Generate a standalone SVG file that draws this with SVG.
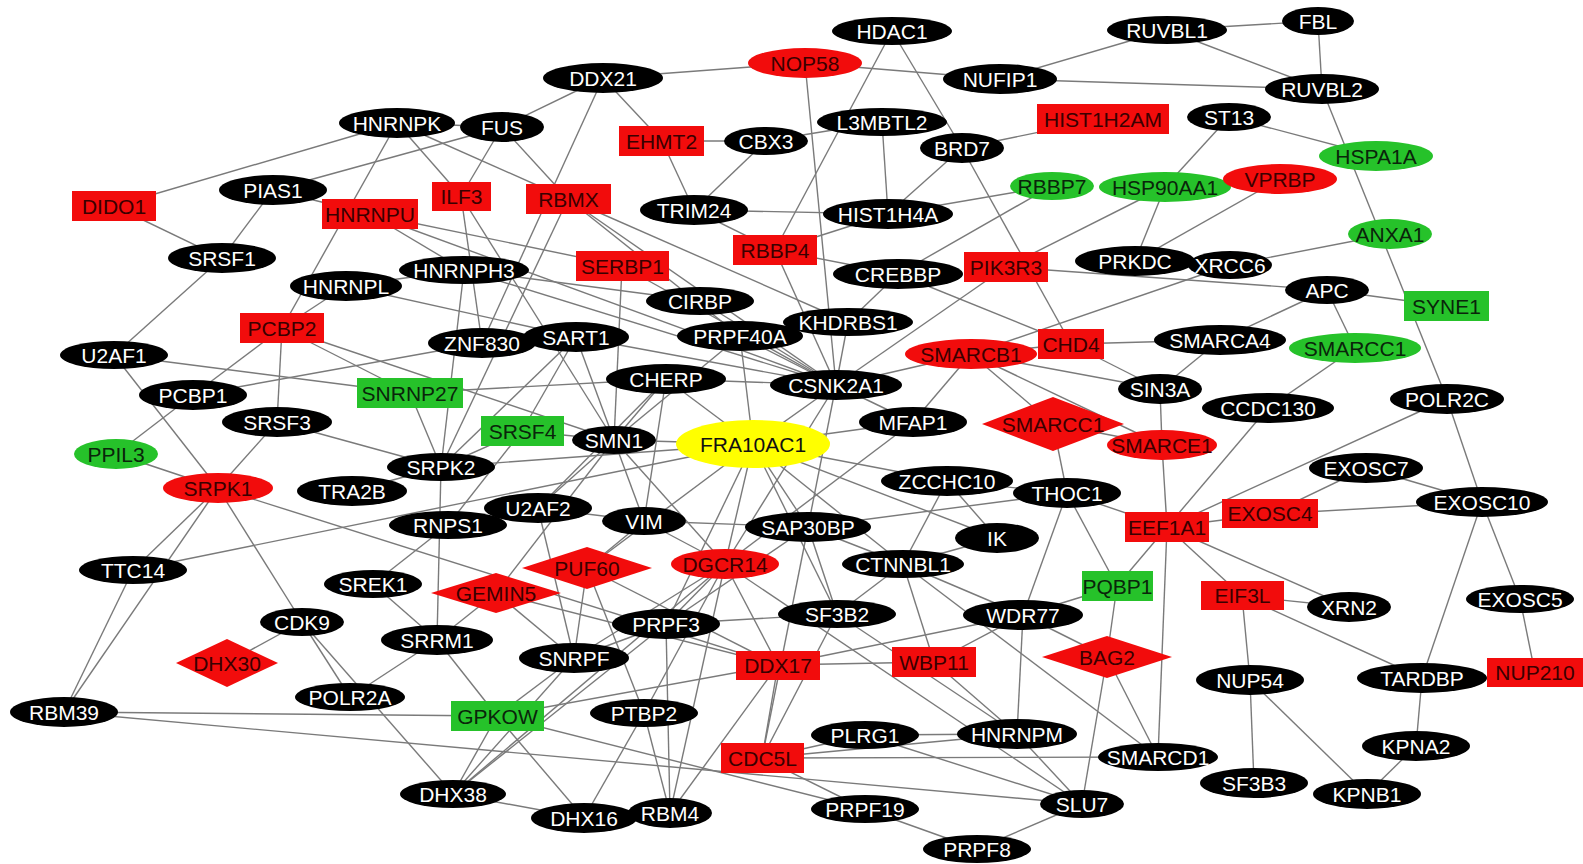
<svg xmlns="http://www.w3.org/2000/svg" width="1583" height="864" viewBox="0 0 1583 864">
<style>
.bg{fill:#fff}
#edges path{stroke:#7a7a7a;stroke-width:1.4;fill:none}
text{font-family:"Liberation Sans",Arial,sans-serif;font-size:21px;text-anchor:middle}
g.k ellipse{fill:#000}
g.k text{fill:#fff}
g.r ellipse,g.r rect,g.r polygon{fill:#f20c0c}
g.r text{fill:#3a0000}
g.g ellipse,g.g rect{fill:#26c22a}
g.g text{fill:#0a250a}
g.y ellipse{fill:#ffff00}
g.y text{fill:#111}
</style>
<rect class="bg" x="0" y="0" width="1583" height="864"/>
<g id="edges">
<path d="M603 78L805 63"/><path d="M603 78L502 127"/><path d="M603 78L662 141"/><path d="M603 78L482 343"/>
<path d="M805 63L1000 79"/><path d="M805 63L836 385"/><path d="M892 31L775 250"/><path d="M892 31L962 148"/>
<path d="M1000 79L1167 30"/><path d="M1000 79L1322 89"/><path d="M1167 30L1318 21"/><path d="M1167 30L1322 89"/>
<path d="M1318 21L1322 89"/><path d="M1322 89L1447 399"/><path d="M1229 117L1376 156"/><path d="M1229 117L1165 187"/>
<path d="M1165 187L1135 261"/><path d="M1165 187L1006 267"/><path d="M1280 179L1135 261"/><path d="M1135 261L1230 265"/>
<path d="M1230 265L1390 234"/><path d="M1230 265L971 354"/><path d="M1327 290L1006 267"/><path d="M1327 290L1446 306"/>
<path d="M1327 290L1220 340"/><path d="M1327 290L1355 348"/><path d="M1355 348L1268 408"/><path d="M1268 408L1167 527"/>
<path d="M1220 340L1160 389"/><path d="M1220 340L1071 344"/><path d="M882 122L766 141"/><path d="M882 122L888 214"/>
<path d="M962 148L888 214"/><path d="M962 148L1103 119"/><path d="M962 148L1071 344"/><path d="M888 214L1052 186"/>
<path d="M888 214L775 250"/><path d="M1052 186L898 274"/><path d="M694 210L888 214"/><path d="M694 210L775 250"/>
<path d="M775 250L836 385"/><path d="M775 250L898 274"/><path d="M662 141L766 141"/><path d="M662 141L694 210"/>
<path d="M766 141L694 210"/><path d="M898 274L1071 344"/><path d="M848 322L898 274"/><path d="M1006 267L836 385"/>
<path d="M1071 344L971 354"/><path d="M1071 344L1160 389"/><path d="M971 354L836 385"/><path d="M971 354L913 422"/>
<path d="M971 354L1053 424"/><path d="M971 354L1162 445"/><path d="M971 354L1160 389"/><path d="M1053 424L1162 445"/>
<path d="M1053 424L1067 493"/><path d="M1160 389L1162 445"/><path d="M1162 445L1167 527"/><path d="M1167 527L1158 757"/>
<path d="M1167 527L1270 514"/><path d="M1167 527L1447 399"/><path d="M1167 527L1242 596"/><path d="M1167 527L1349 607"/>
<path d="M1167 527L1117 586"/><path d="M1167 527L1067 493"/><path d="M1270 514L1366 468"/><path d="M1270 514L1482 502"/>
<path d="M1366 468L1482 502"/><path d="M1482 502L1422 678"/><path d="M1482 502L1520 599"/><path d="M1447 399L1482 502"/>
<path d="M1520 599L1535 673"/><path d="M1242 596L1349 607"/><path d="M1242 596L1422 678"/><path d="M1242 596L1250 680"/>
<path d="M1250 680L1254 783"/><path d="M1250 680L1367 794"/><path d="M1422 678L1416 746"/><path d="M1416 746L1367 794"/>
<path d="M1067 493L947 481"/><path d="M1067 493L1117 586"/><path d="M1067 493L1023 615"/><path d="M1067 493L808 527"/>
<path d="M947 481L997 538"/><path d="M947 481L903 564"/><path d="M997 538L903 564"/><path d="M753 444L947 481"/>
<path d="M753 444L997 538"/><path d="M753 444L913 422"/><path d="M913 422L836 385"/><path d="M913 422L725 564"/>
<path d="M836 385L753 444"/><path d="M836 385L848 322"/><path d="M836 385L740 336"/><path d="M836 385L700 301"/>
<path d="M836 385L666 379"/><path d="M836 385L622 266"/><path d="M836 385L568 199"/><path d="M836 385L464 270"/>
<path d="M836 385L576 337"/><path d="M836 385L808 527"/><path d="M836 385L725 564"/><path d="M836 385L370 214"/>
<path d="M568 199L848 322"/><path d="M568 199L740 336"/><path d="M568 199L441 467"/><path d="M397 123L114 206"/>
<path d="M397 123L502 127"/><path d="M397 123L461 196"/><path d="M397 123L568 199"/><path d="M397 123L282 328"/>
<path d="M273 190L502 127"/><path d="M273 190L370 214"/><path d="M273 190L222 258"/><path d="M114 206L222 258"/>
<path d="M222 258L114 355"/><path d="M502 127L461 196"/><path d="M502 127L568 199"/><path d="M461 196L482 343"/>
<path d="M461 196L614 440"/><path d="M370 214L622 266"/><path d="M370 214L464 270"/><path d="M346 286L282 328"/>
<path d="M346 286L464 270"/><path d="M346 286L576 337"/><path d="M464 270L700 301"/><path d="M464 270L441 467"/>
<path d="M622 266L614 440"/><path d="M282 328L193 395"/><path d="M282 328L277 422"/><path d="M282 328L410 393"/>
<path d="M282 328L614 440"/><path d="M193 395L482 343"/><path d="M193 395L116 454"/><path d="M114 355L410 393"/>
<path d="M114 355L218 488"/><path d="M116 454L218 488"/><path d="M277 422L218 488"/><path d="M277 422L441 467"/>
<path d="M218 488L302 622"/><path d="M218 488L778 665"/><path d="M218 488L133 570"/><path d="M218 488L64 712"/>
<path d="M133 570L64 712"/><path d="M133 570L753 444"/><path d="M64 712L497 716"/><path d="M64 712L1082 804"/>
<path d="M302 622L227 663"/><path d="M302 622L350 697"/><path d="M302 622L453 794"/><path d="M350 697L437 640"/>
<path d="M373 584L437 640"/><path d="M373 584L448 525"/><path d="M441 467L437 640"/><path d="M441 467L352 491"/>
<path d="M441 467L410 393"/><path d="M441 467L522 431"/><path d="M441 467L753 444"/><path d="M482 343L576 337"/>
<path d="M576 337L522 431"/><path d="M576 337L614 440"/><path d="M576 337L441 467"/><path d="M410 393L666 379"/>
<path d="M522 431L614 440"/><path d="M522 431L448 525"/><path d="M666 379L614 440"/><path d="M666 379L753 444"/>
<path d="M666 379L538 508"/><path d="M666 379L644 521"/><path d="M614 440L753 444"/><path d="M614 440L538 508"/>
<path d="M614 440L644 521"/><path d="M614 440L496 593"/><path d="M614 440L725 564"/><path d="M740 336L753 444"/>
<path d="M740 336L614 440"/><path d="M538 508L448 525"/><path d="M538 508L644 521"/><path d="M538 508L574 658"/>
<path d="M644 521L808 527"/><path d="M644 521L725 564"/><path d="M644 521L587 568"/><path d="M753 444L587 568"/>
<path d="M753 444L725 564"/><path d="M753 444L808 527"/><path d="M753 444L903 564"/><path d="M753 444L666 624"/>
<path d="M753 444L837 614"/><path d="M808 527L903 564"/><path d="M808 527L837 614"/><path d="M808 527L666 624"/>
<path d="M808 527L762 758"/><path d="M725 564L666 624"/><path d="M725 564L574 658"/><path d="M725 564L778 665"/>
<path d="M725 564L670 813"/><path d="M725 564L644 713"/><path d="M725 564L453 794"/><path d="M725 564L1082 804"/>
<path d="M587 568L574 658"/><path d="M587 568L644 713"/><path d="M587 568L778 665"/><path d="M496 593L574 658"/>
<path d="M496 593L778 665"/><path d="M496 593L437 640"/><path d="M666 624L574 658"/><path d="M666 624L453 794"/>
<path d="M666 624L670 813"/><path d="M666 624L837 614"/><path d="M574 658L497 716"/><path d="M574 658L453 794"/>
<path d="M497 716L437 640"/><path d="M497 716L453 794"/><path d="M497 716L584 818"/><path d="M497 716L778 665"/>
<path d="M497 716L865 809"/><path d="M453 794L584 818"/><path d="M584 818L644 713"/><path d="M584 818L670 813"/>
<path d="M644 713L670 813"/><path d="M670 813L778 665"/><path d="M778 665L934 662"/><path d="M778 665L1023 615"/>
<path d="M778 665L762 758"/><path d="M762 758L865 735"/><path d="M762 758L1017 734"/><path d="M762 758L1158 757"/>
<path d="M762 758L865 809"/><path d="M762 758L837 614"/><path d="M903 564L1023 615"/><path d="M903 564L934 662"/>
<path d="M903 564L1158 757"/><path d="M903 564L837 614"/><path d="M837 614L1017 734"/><path d="M1023 615L1017 734"/>
<path d="M1023 615L1117 586"/><path d="M1023 615L1107 657"/><path d="M1023 615L934 662"/><path d="M934 662L1017 734"/>
<path d="M1117 586L1107 657"/><path d="M1107 657L1082 804"/><path d="M1107 657L1158 757"/><path d="M865 735L1017 734"/>
<path d="M865 735L1082 804"/><path d="M1017 734L1082 804"/><path d="M865 809L977 849"/><path d="M977 849L1082 804"/>
</g>
<g id="HDAC1" class="k"><ellipse cx="892" cy="31" rx="60" ry="14"/><text x="892" y="38.5">HDAC1</text></g>
<g id="RUVBL1" class="k"><ellipse cx="1167" cy="30" rx="60" ry="14"/><text x="1167" y="37.5">RUVBL1</text></g>
<g id="FBL" class="k"><ellipse cx="1318" cy="21" rx="36" ry="14"/><text x="1318" y="28.5">FBL</text></g>
<g id="NOP58" class="r"><ellipse cx="805" cy="63" rx="57" ry="15"/><text x="805" y="70.5">NOP58</text></g>
<g id="DDX21" class="k"><ellipse cx="603" cy="78" rx="60" ry="15"/><text x="603" y="85.5">DDX21</text></g>
<g id="NUFIP1" class="k"><ellipse cx="1000" cy="79" rx="57" ry="15"/><text x="1000" y="86.5">NUFIP1</text></g>
<g id="RUVBL2" class="k"><ellipse cx="1322" cy="89" rx="57" ry="15"/><text x="1322" y="96.5">RUVBL2</text></g>
<g id="HNRNPK" class="k"><ellipse cx="397" cy="123" rx="58" ry="15"/><text x="397" y="130.5">HNRNPK</text></g>
<g id="FUS" class="k"><ellipse cx="502" cy="127" rx="42" ry="15"/><text x="502" y="134.5">FUS</text></g>
<g id="L3MBTL2" class="k"><ellipse cx="882" cy="122" rx="65" ry="14"/><text x="882" y="129.5">L3MBTL2</text></g>
<g id="HIST1H2AM" class="r"><rect x="1037" y="104" width="132" height="30"/><text x="1103" y="126.5">HIST1H2AM</text></g>
<g id="ST13" class="k"><ellipse cx="1229" cy="117" rx="42" ry="14"/><text x="1229" y="124.5">ST13</text></g>
<g id="EHMT2" class="r"><rect x="619" y="126" width="85" height="30"/><text x="661.5" y="148.5">EHMT2</text></g>
<g id="CBX3" class="k"><ellipse cx="766" cy="141" rx="42" ry="14"/><text x="766" y="148.5">CBX3</text></g>
<g id="BRD7" class="k"><ellipse cx="962" cy="148" rx="42" ry="15"/><text x="962" y="155.5">BRD7</text></g>
<g id="HSPA1A" class="g"><ellipse cx="1376" cy="156" rx="57" ry="15"/><text x="1376" y="163.5">HSPA1A</text></g>
<g id="DIDO1" class="r"><rect x="72" y="191" width="84" height="30"/><text x="114" y="213.5">DIDO1</text></g>
<g id="PIAS1" class="k"><ellipse cx="273" cy="190" rx="54" ry="15"/><text x="273" y="197.5">PIAS1</text></g>
<g id="ILF3" class="r"><rect x="432" y="182" width="59" height="29"/><text x="461.5" y="204">ILF3</text></g>
<g id="RBMX" class="r"><rect x="526" y="184" width="85" height="30"/><text x="568.5" y="206.5">RBMX</text></g>
<g id="HNRNPU" class="r"><rect x="322" y="199" width="96" height="30"/><text x="370" y="221.5">HNRNPU</text></g>
<g id="TRIM24" class="k"><ellipse cx="694" cy="210" rx="54" ry="15"/><text x="694" y="217.5">TRIM24</text></g>
<g id="HIST1H4A" class="k"><ellipse cx="888" cy="214" rx="65" ry="15"/><text x="888" y="221.5">HIST1H4A</text></g>
<g id="RBBP7" class="g"><ellipse cx="1052" cy="186" rx="42" ry="14"/><text x="1052" y="193.5">RBBP7</text></g>
<g id="HSP90AA1" class="g"><ellipse cx="1165" cy="187" rx="66" ry="15"/><text x="1165" y="194.5">HSP90AA1</text></g>
<g id="VPRBP" class="r"><ellipse cx="1280" cy="179" rx="57" ry="15"/><text x="1280" y="186.5">VPRBP</text></g>
<g id="SRSF1" class="k"><ellipse cx="222" cy="258" rx="54" ry="15"/><text x="222" y="265.5">SRSF1</text></g>
<g id="RBBP4" class="r"><rect x="733" y="235" width="84" height="30"/><text x="775" y="257.5">RBBP4</text></g>
<g id="SERBP1" class="r"><rect x="576" y="251" width="93" height="30"/><text x="622.5" y="273.5">SERBP1</text></g>
<g id="HNRNPH3" class="k"><ellipse cx="464" cy="270" rx="65" ry="14"/><text x="464" y="277.5">HNRNPH3</text></g>
<g id="CREBBP" class="k"><ellipse cx="898" cy="274" rx="65" ry="15"/><text x="898" y="281.5">CREBBP</text></g>
<g id="PIK3R3" class="r"><rect x="964" y="252" width="84" height="30"/><text x="1006" y="274.5">PIK3R3</text></g>
<g id="PRKDC" class="k"><ellipse cx="1135" cy="261" rx="60" ry="15"/><text x="1135" y="268.5">PRKDC</text></g>
<g id="XRCC6" class="k"><ellipse cx="1230" cy="265" rx="42" ry="14"/><text x="1230" y="272.5">XRCC6</text></g>
<g id="ANXA1" class="g"><ellipse cx="1390" cy="234" rx="42" ry="15"/><text x="1390" y="241.5">ANXA1</text></g>
<g id="HNRNPL" class="k"><ellipse cx="346" cy="286" rx="56" ry="15"/><text x="346" y="293.5">HNRNPL</text></g>
<g id="CIRBP" class="k"><ellipse cx="700" cy="301" rx="54" ry="14"/><text x="700" y="308.5">CIRBP</text></g>
<g id="APC" class="k"><ellipse cx="1327" cy="290" rx="42" ry="14"/><text x="1327" y="297.5">APC</text></g>
<g id="SYNE1" class="g"><rect x="1404" y="291" width="85" height="30"/><text x="1446.5" y="313.5">SYNE1</text></g>
<g id="PCBP2" class="r"><rect x="240" y="313" width="84" height="30"/><text x="282" y="335.5">PCBP2</text></g>
<g id="KHDRBS1" class="k"><ellipse cx="848" cy="322" rx="65" ry="14"/><text x="848" y="329.5">KHDRBS1</text></g>
<g id="PRPF40A" class="k"><ellipse cx="740" cy="336" rx="63" ry="15"/><text x="740" y="343.5">PRPF40A</text></g>
<g id="ZNF830" class="k"><ellipse cx="482" cy="343" rx="54" ry="15"/><text x="482" y="350.5">ZNF830</text></g>
<g id="SART1" class="k"><ellipse cx="576" cy="337" rx="53" ry="15"/><text x="576" y="344.5">SART1</text></g>
<g id="SMARCB1" class="r"><ellipse cx="971" cy="354" rx="66" ry="15"/><text x="971" y="361.5">SMARCB1</text></g>
<g id="CHD4" class="r"><rect x="1038" y="329" width="66" height="30"/><text x="1071" y="351.5">CHD4</text></g>
<g id="SMARCA4" class="k"><ellipse cx="1220" cy="340" rx="66" ry="15"/><text x="1220" y="347.5">SMARCA4</text></g>
<g id="SMARCC1-green" class="g"><ellipse cx="1355" cy="348" rx="66" ry="15"/><text x="1355" y="355.5">SMARCC1</text></g>
<g id="U2AF1" class="k"><ellipse cx="114" cy="355" rx="54" ry="14"/><text x="114" y="362.5">U2AF1</text></g>
<g id="CHERP" class="k"><ellipse cx="666" cy="379" rx="60" ry="15"/><text x="666" y="386.5">CHERP</text></g>
<g id="CSNK2A1" class="k"><ellipse cx="836" cy="385" rx="66" ry="15"/><text x="836" y="392.5">CSNK2A1</text></g>
<g id="SNRNP27" class="g"><rect x="357" y="378" width="106" height="30"/><text x="410" y="400.5">SNRNP27</text></g>
<g id="PCBP1" class="k"><ellipse cx="193" cy="395" rx="54" ry="15"/><text x="193" y="402.5">PCBP1</text></g>
<g id="SIN3A" class="k"><ellipse cx="1160" cy="389" rx="42" ry="15"/><text x="1160" y="396.5">SIN3A</text></g>
<g id="POLR2C" class="k"><ellipse cx="1447" cy="399" rx="57" ry="15"/><text x="1447" y="406.5">POLR2C</text></g>
<g id="SRSF3" class="k"><ellipse cx="277" cy="422" rx="55" ry="15"/><text x="277" y="429.5">SRSF3</text></g>
<g id="MFAP1" class="k"><ellipse cx="913" cy="422" rx="54" ry="15"/><text x="913" y="429.5">MFAP1</text></g>
<g id="SMARCC1-red" class="r"><polygon points="982,424 1053,397 1124,424 1053,451"/><text x="1053" y="431.5">SMARCC1</text></g>
<g id="CCDC130" class="k"><ellipse cx="1268" cy="408" rx="66" ry="15"/><text x="1268" y="415.5">CCDC130</text></g>
<g id="SRSF4" class="g"><rect x="481" y="416" width="83" height="30"/><text x="522.5" y="438.5">SRSF4</text></g>
<g id="SMN1" class="k"><ellipse cx="614" cy="440" rx="42" ry="14"/><text x="614" y="447.5">SMN1</text></g>
<g id="FRA10AC1" class="y"><ellipse cx="753" cy="444" rx="77" ry="24"/><text x="753" y="451.5">FRA10AC1</text></g>
<g id="SMARCE1" class="r"><ellipse cx="1162" cy="445" rx="55" ry="15"/><text x="1162" y="452.5">SMARCE1</text></g>
<g id="PPIL3" class="g"><ellipse cx="116" cy="454" rx="42" ry="15"/><text x="116" y="461.5">PPIL3</text></g>
<g id="SRPK2" class="k"><ellipse cx="441" cy="467" rx="54" ry="14"/><text x="441" y="474.5">SRPK2</text></g>
<g id="SRPK1" class="r"><ellipse cx="218" cy="488" rx="55" ry="15"/><text x="218" y="495.5">SRPK1</text></g>
<g id="TRA2B" class="k"><ellipse cx="352" cy="491" rx="55" ry="15"/><text x="352" y="498.5">TRA2B</text></g>
<g id="ZCCHC10" class="k"><ellipse cx="947" cy="481" rx="66" ry="15"/><text x="947" y="488.5">ZCCHC10</text></g>
<g id="THOC1" class="k"><ellipse cx="1067" cy="493" rx="54" ry="15"/><text x="1067" y="500.5">THOC1</text></g>
<g id="EXOSC7" class="k"><ellipse cx="1366" cy="468" rx="57" ry="15"/><text x="1366" y="475.5">EXOSC7</text></g>
<g id="EXOSC10" class="k"><ellipse cx="1482" cy="502" rx="66" ry="15"/><text x="1482" y="509.5">EXOSC10</text></g>
<g id="U2AF2" class="k"><ellipse cx="538" cy="508" rx="54" ry="15"/><text x="538" y="515.5">U2AF2</text></g>
<g id="RNPS1" class="k"><ellipse cx="448" cy="525" rx="59" ry="14"/><text x="448" y="532.5">RNPS1</text></g>
<g id="VIM" class="k"><ellipse cx="644" cy="521" rx="42" ry="14"/><text x="644" y="528.5">VIM</text></g>
<g id="SAP30BP" class="k"><ellipse cx="808" cy="527" rx="63" ry="15"/><text x="808" y="534.5">SAP30BP</text></g>
<g id="EEF1A1" class="r"><rect x="1125" y="512" width="84" height="30"/><text x="1167" y="534.5">EEF1A1</text></g>
<g id="EXOSC4" class="r"><rect x="1222" y="499" width="96" height="29"/><text x="1270" y="521">EXOSC4</text></g>
<g id="IK" class="k"><ellipse cx="997" cy="538" rx="42" ry="15"/><text x="997" y="545.5">IK</text></g>
<g id="TTC14" class="k"><ellipse cx="133" cy="570" rx="54" ry="14"/><text x="133" y="577.5">TTC14</text></g>
<g id="PUF60" class="r"><polygon points="522,568 587,547 652,568 587,589"/><text x="587" y="575.5">PUF60</text></g>
<g id="DGCR14" class="r"><ellipse cx="725" cy="564" rx="54" ry="15"/><text x="725" y="571.5">DGCR14</text></g>
<g id="CTNNBL1" class="k"><ellipse cx="903" cy="564" rx="61" ry="14"/><text x="903" y="571.5">CTNNBL1</text></g>
<g id="SREK1" class="k"><ellipse cx="373" cy="584" rx="49" ry="14"/><text x="373" y="591.5">SREK1</text></g>
<g id="GEMIN5" class="r"><polygon points="431,593 496,573 561,593 496,613"/><text x="496" y="600.5">GEMIN5</text></g>
<g id="PQBP1" class="g"><rect x="1082" y="571" width="71" height="30"/><text x="1117.5" y="593.5">PQBP1</text></g>
<g id="EIF3L" class="r"><rect x="1201" y="581" width="83" height="29"/><text x="1242.5" y="603">EIF3L</text></g>
<g id="XRN2" class="k"><ellipse cx="1349" cy="607" rx="42" ry="15"/><text x="1349" y="614.5">XRN2</text></g>
<g id="EXOSC5" class="k"><ellipse cx="1520" cy="599" rx="54" ry="14"/><text x="1520" y="606.5">EXOSC5</text></g>
<g id="CDK9" class="k"><ellipse cx="302" cy="622" rx="42" ry="14"/><text x="302" y="629.5">CDK9</text></g>
<g id="PRPF3" class="k"><ellipse cx="666" cy="624" rx="54" ry="15"/><text x="666" y="631.5">PRPF3</text></g>
<g id="SF3B2" class="k"><ellipse cx="837" cy="614" rx="59" ry="14"/><text x="837" y="621.5">SF3B2</text></g>
<g id="WDR77" class="k"><ellipse cx="1023" cy="615" rx="60" ry="15"/><text x="1023" y="622.5">WDR77</text></g>
<g id="SRRM1" class="k"><ellipse cx="437" cy="640" rx="56" ry="15"/><text x="437" y="647.5">SRRM1</text></g>
<g id="DHX30" class="r"><polygon points="176,663 227,639 278,663 227,687"/><text x="227" y="670.5">DHX30</text></g>
<g id="SNRPF" class="k"><ellipse cx="574" cy="658" rx="55" ry="15"/><text x="574" y="665.5">SNRPF</text></g>
<g id="DDX17" class="r"><rect x="736" y="651" width="84" height="29"/><text x="778" y="673">DDX17</text></g>
<g id="WBP11" class="r"><rect x="892" y="647" width="84" height="30"/><text x="934" y="669.5">WBP11</text></g>
<g id="BAG2" class="r"><polygon points="1042,657 1107,636 1172,657 1107,678"/><text x="1107" y="664.5">BAG2</text></g>
<g id="NUP54" class="k"><ellipse cx="1250" cy="680" rx="54" ry="15"/><text x="1250" y="687.5">NUP54</text></g>
<g id="TARDBP" class="k"><ellipse cx="1422" cy="678" rx="65" ry="15"/><text x="1422" y="685.5">TARDBP</text></g>
<g id="NUP210" class="r"><rect x="1487" y="658" width="96" height="29"/><text x="1535" y="680">NUP210</text></g>
<g id="RBM39" class="k"><ellipse cx="64" cy="712" rx="54" ry="15"/><text x="64" y="719.5">RBM39</text></g>
<g id="POLR2A" class="k"><ellipse cx="350" cy="697" rx="55" ry="14"/><text x="350" y="704.5">POLR2A</text></g>
<g id="GPKOW" class="g"><rect x="451" y="701" width="93" height="30"/><text x="497.5" y="723.5">GPKOW</text></g>
<g id="PTBP2" class="k"><ellipse cx="644" cy="713" rx="54" ry="14"/><text x="644" y="720.5">PTBP2</text></g>
<g id="PLRG1" class="k"><ellipse cx="865" cy="735" rx="54" ry="14"/><text x="865" y="742.5">PLRG1</text></g>
<g id="HNRNPM" class="k"><ellipse cx="1017" cy="734" rx="60" ry="15"/><text x="1017" y="741.5">HNRNPM</text></g>
<g id="KPNA2" class="k"><ellipse cx="1416" cy="746" rx="54" ry="15"/><text x="1416" y="753.5">KPNA2</text></g>
<g id="CDC5L" class="r"><rect x="721" y="743" width="83" height="30"/><text x="762.5" y="765.5">CDC5L</text></g>
<g id="SMARCD1" class="k"><ellipse cx="1158" cy="757" rx="60" ry="14"/><text x="1158" y="764.5">SMARCD1</text></g>
<g id="SF3B3" class="k"><ellipse cx="1254" cy="783" rx="54" ry="15"/><text x="1254" y="790.5">SF3B3</text></g>
<g id="DHX38" class="k"><ellipse cx="453" cy="794" rx="53" ry="14"/><text x="453" y="801.5">DHX38</text></g>
<g id="DHX16" class="k"><ellipse cx="584" cy="818" rx="53" ry="15"/><text x="584" y="825.5">DHX16</text></g>
<g id="RBM4" class="k"><ellipse cx="670" cy="813" rx="42" ry="15"/><text x="670" y="820.5">RBM4</text></g>
<g id="PRPF19" class="k"><ellipse cx="865" cy="809" rx="54" ry="14"/><text x="865" y="816.5">PRPF19</text></g>
<g id="SLU7" class="k"><ellipse cx="1082" cy="804" rx="42" ry="14"/><text x="1082" y="811.5">SLU7</text></g>
<g id="KPNB1" class="k"><ellipse cx="1367" cy="794" rx="54" ry="15"/><text x="1367" y="801.5">KPNB1</text></g>
<g id="PRPF8" class="k"><ellipse cx="977" cy="849" rx="54" ry="14"/><text x="977" y="856.5">PRPF8</text></g>
</svg>
